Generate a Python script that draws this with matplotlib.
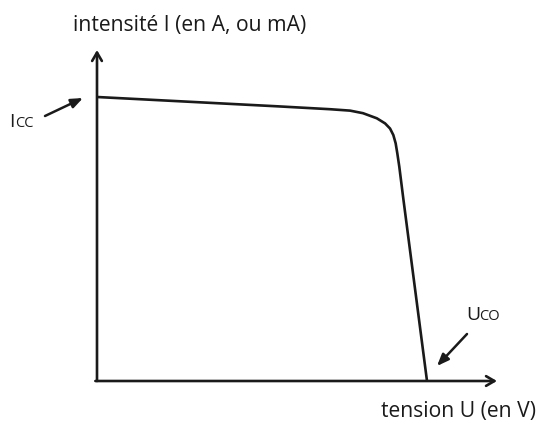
import matplotlib
matplotlib.use("Agg")
import matplotlib.pyplot as plt

# Data (arbitrary normalised units: U relative to Uco, I relative to Icc)
U = [0.0, 0.30, 0.55, 0.706, 0.767, 0.806, 0.848, 0.873, 0.888, 0.898, 0.905, 0.910, 0.916, 0.928, 1.0]
I = [1.0, 0.982, 0.967, 0.957, 0.952, 0.943, 0.925, 0.907, 0.889, 0.866, 0.837, 0.802, 0.755, 0.644, 0.0]

title_y = "intensité I (en A, ou mA)"
title_x = "tension U (en V)"

W, H = 539, 421
fig = plt.figure(figsize=(W / 100, H / 100), dpi=100)
ax = fig.add_axes([0, 0, 1, 1])
ox, oy = 97, 381
sx, sy = 330, 284
ax.set_xlim(-ox / sx, (W - ox) / sx)
ax.set_ylim(-(H - oy) / sy, oy / sy)
ax.axis("off")

lw = 1.9
col = "#1a1a1a"
ax.plot(U, I, color=col, lw=lw, solid_joinstyle="round", solid_capstyle="butt")

# axes arrows
ax.annotate("", xy=(0, (oy - 50) / sy), xytext=(0, 0),
            arrowprops=dict(arrowstyle="->,head_length=0.6,head_width=0.35", lw=lw, color=col,
                            shrinkA=0, shrinkB=0))
ax.annotate("", xy=((497 - ox) / sx, 0), xytext=(-0.005, 0),
            arrowprops=dict(arrowstyle="->,head_length=0.6,head_width=0.35", lw=lw, color=col,
                            shrinkA=0, shrinkB=0))

def px(x, y):
    return ((x - ox) / sx, (oy - y) / sy)

# pointer arrows
ax.annotate("", xy=px(83, 98), xytext=px(45, 116),
            arrowprops=dict(arrowstyle="-|>,head_length=0.7,head_width=0.28", lw=1.8, color=col,
                            shrinkA=0, shrinkB=0))
ax.annotate("", xy=px(437, 366), xytext=px(467, 334),
            arrowprops=dict(arrowstyle="-|>,head_length=0.7,head_width=0.28", lw=1.8, color=col,
                            shrinkA=0, shrinkB=0))

fam = "Open Sans"
fs = 15.2
ax.text(*px(73, 25), title_y, fontsize=fs, family=fam, va="center", ha="left", color=col)
ax.text(*px(536, 411), title_x, fontsize=fs, family=fam, va="center", ha="right", color=col)

ax.text(*px(9, 127), "I", fontsize=14, family=fam, va="baseline", ha="left", color=col)
ax.text(*px(15.5, 127), "CC", fontsize=10.5, family=fam, va="baseline", ha="left", color=col)
ax.text(*px(466, 320), "U", fontsize=14, family=fam, va="baseline", ha="left", color=col)
ax.text(*px(479, 320), "CO", fontsize=10.5, family=fam, va="baseline", ha="left", color=col)

fig.savefig("out.png", dpi=100)
